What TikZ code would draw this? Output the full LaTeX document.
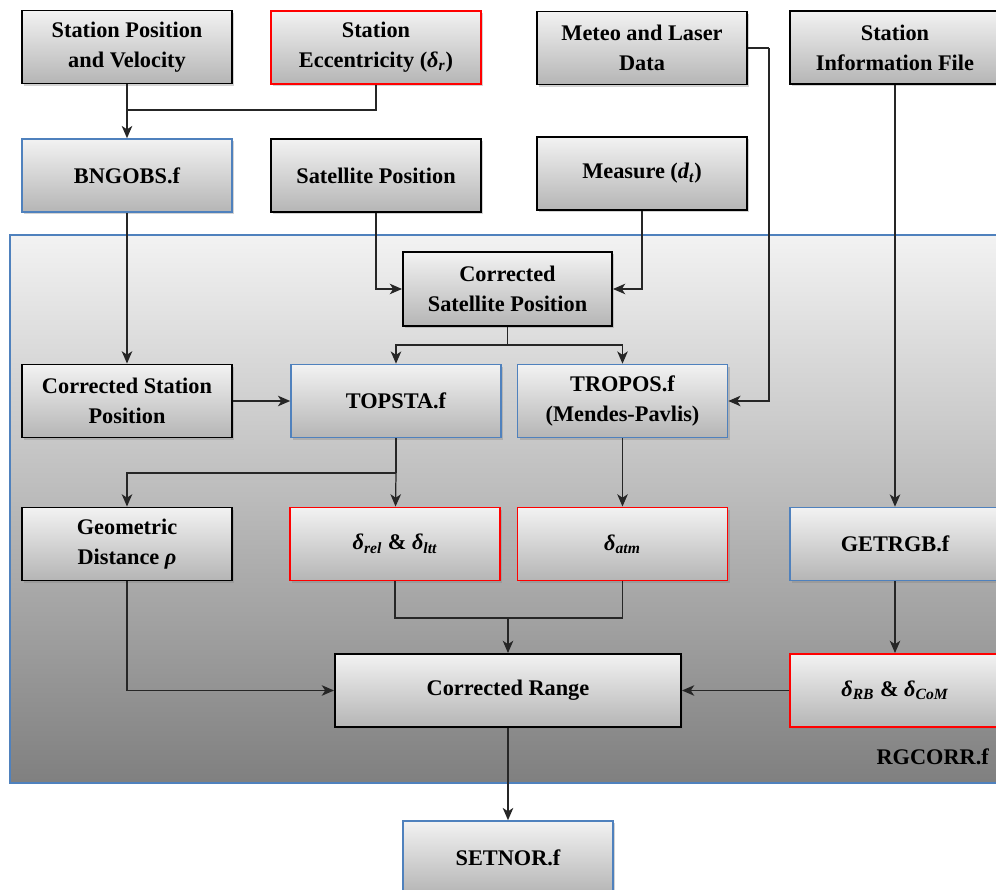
\documentclass[tikz,border=0pt]{standalone}
\usepackage{fontspec}
\setmainfont{Liberation Serif}
\usetikzlibrary{positioning, arrows.meta, shadows}
\definecolor{boxblue}{RGB}{79,129,189}
\definecolor{boxred}{RGB}{255,0,0}
\newcommand{\dl}[1]{\textit{δ\textsubscript{#1}}}

\begin{document}
\begin{tikzpicture}[
		box/.style={draw, rectangle, align=center, line width=1.1pt, top color=gray!10, bottom color=gray!58, minimum width=4.2cm, minimum height=1.46cm, inner sep=2pt, font=\fontsize{12.7}{17}\selectfont\bfseries, drop shadow={shadow xshift=1.2pt, shadow yshift=-1.2pt, opacity=0.35}},
		prog/.style={box, draw=boxblue, line width=0.9pt},
		corr/.style={box, draw=boxred},
		frame/.style={draw=boxblue, line width=0.9pt, top color=gray!10, bottom color=black!50, inner sep=0pt},
		arrow/.style={-{Stealth[length=7pt, width=6pt, inset=2pt]}, line width=0.7pt, draw=black!85},
		line/.style={line width=0.7pt, draw=black!85}
		]
		\useasboundingbox (0,0) rectangle (19.92,17.78);
		
		% Background of RGCORR.f
		\node[frame, minimum width=19.8cm, minimum height=10.96cm] (rgcorr) at (10.1,7.6) {};
		\node[anchor=east, font=\fontsize{12.7}{17}\selectfont\bfseries] (rglabel) at (19.9,2.64) {RGCORR.f};
		
		% Define Nodes
		\node[box] (StaPos) at (2.54,16.84) {Station Position \\ and Velocity};
		\node[corr] (Ecc) at (7.52,16.83) {Station \\ Eccentricity (\dl{r})};
		\node[box] (Meteo) at (12.84,16.82) {Meteo and Laser \\ Data};
		\node[box] (StaInfo) at (17.9,16.83) {Station \\ Information File};
		
		\node[prog] (Bngobs) at (2.54,14.27) {BNGOBS.f};
		\node[box] (SatPos) at (7.52,14.27) {Satellite Position};
		\node[box] (Measure) at (12.84,14.31) {Measure (\textit{d\textsubscript{t}})};
		
		\node[box, minimum width=4.18cm, minimum height=1.48cm] (CorSat) at (10.15,12.0) {Corrected \\ Satellite Position};
		
		\node[box] (CorSta) at (2.54,9.76) {Corrected Station \\ Position};
		\node[prog] (Topsta) at (7.92,9.76) {TOPSTA.f};
		\node[prog] (Tropos) at (12.45,9.76) {TROPOS.f \\ (Mendes-Pavlis)};
		
		\node[box] (Geom) at (2.54,6.9) {Geometric \\ Distance \textit{ρ}};
		\node[corr] (RelLtt) at (7.9,6.9) {\dl{rel} \& \dl{ltt}};
		\node[corr] (Atm) at (12.45,6.9) {\dl{atm}};
		\node[prog] (Getrgb) at (17.9,6.9) {GETRGB.f};
		
		\node[box, minimum width=6.92cm] (Range) at (10.16,3.97) {Corrected Range};
		\node[corr] (RbCom) at (17.9,3.97) {\dl{RB} \& \dl{CoM}};
		
		\node[prog] (Setnor) at (10.16,0.63) {SETNOR.f};
		
		% Junctions
		\coordinate (j1) at (2.54,15.58);
		\coordinate (j2) at (15.38,16.82);
		\coordinate (j3) at (10.15,10.88);
		\coordinate (j4) at (7.92,8.32);
		\coordinate (j5) at (10.16,5.42);
		
		% Draw connections
		\draw[arrow] (StaPos) -- (Bngobs);
		\draw[line] (Ecc) |- (j1);
		\draw[arrow] (Bngobs) -- (CorSta);
		\draw[arrow] (SatPos) |- (CorSat);
		\draw[arrow] (Measure) |- (CorSat);
		\draw[line] (Meteo.east) -- (j2);
		\draw[arrow] (j2) |- (Tropos);
		\draw[arrow] (StaInfo) -- (Getrgb);
		
		\draw[line] (CorSat) -- (j3);
		\draw[arrow] (j3) -| (Topsta);
		\draw[arrow] (j3) -| (Tropos);
		\draw[arrow] (CorSta) -- (Topsta);
		
		\draw[line] (Topsta) -- (j4);
		\draw[arrow] (j4) -| (Geom);
		\draw[arrow] (j4) -- (RelLtt);
		\draw[arrow] (Tropos) -- (Atm);
		
		\draw[line] (RelLtt) |- (j5) -| (Atm);
		\draw[arrow] (j5) -- (Range);
		\draw[arrow] (Geom) |- (Range);
		\draw[arrow] (Getrgb) -- (RbCom);
		\draw[arrow] (RbCom) -- (Range);
		\draw[arrow] (Range) -- (Setnor);
		
	\end{tikzpicture}
\end{document}
